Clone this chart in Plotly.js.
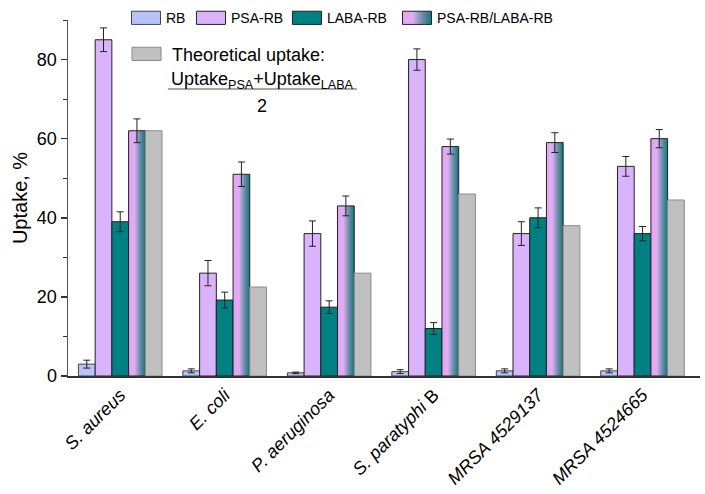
<!DOCTYPE html>
<html>
<head>
<meta charset="utf-8">
<script src="https://cdn.plot.ly/plotly-3.0.1.min.js"></script>
<style>body{margin:0;padding:0;background:#fff;}#chart{width:705px;height:494px;}</style>
</head>
<body>
<div id="chart"></div>
<script>
// ---- data ----
const categories = ["<i>S. aureus</i>", "<i>E. coli</i>", "<i>P. aeruginosa</i>", "<i>S. paratyphi</i> B", "<i>MRSA 4529137</i>", "<i>MRSA 4524665</i>"];
const rb        = [3, 1.3, 0.8, 1.1, 1.3, 1.3];
const rbErr     = [1, 0.5, 0.2, 0.5, 0.5, 0.5];
const psa       = [85, 26, 36, 80, 36, 53];
const psaErr    = [3, 3.2, 3.2, 2.7, 3, 2.5];
const laba      = [39, 19.2, 17.4, 12, 40, 36];
const labaErr   = [2.5, 2, 1.6, 1.5, 2.5, 1.8];
const combo     = [62, 51, 43, 58, 59, 60];
const comboErr  = [3, 3.1, 2.5, 1.9, 2.5, 2.3];
const theory    = [62, 22.5, 26, 46, 38, 44.5];
const seriesNames = ["RB", "PSA-RB", "LABA-RB", "PSA-RB/LABA-RB", "Theoretical uptake:"];

const FAM = "Liberation Sans, Arial, sans-serif";
const font = {family: FAM, size: 18, color: "#000"};
const err = (arr) => ({type: "data", array: arr, visible: true, color: "#222", thickness: 1, width: 3.5});

const traces = [
  {type: "bar", name: seriesNames[0], x: categories, y: rb, error_y: err(rbErr), legend: "legend",
   marker: {color: "#b9c3fb", line: {color: "#444", width: 1}}},
  {type: "bar", name: seriesNames[1], x: categories, y: psa, error_y: err(psaErr), legend: "legend3",
   marker: {color: "#d9b3fb", line: {color: "#222", width: 1}}},
  {type: "bar", name: seriesNames[2], x: categories, y: laba, error_y: err(labaErr), legend: "legend4",
   marker: {color: "#008080", line: {color: "#222", width: 1}}},
  {type: "bar", name: seriesNames[3], x: categories, y: combo, error_y: err(comboErr), legend: "legend5",
   marker: {color: "#c090d8", line: {color: "#222", width: 1}}},
  {type: "bar", name: seriesNames[4], x: categories, y: theory, legend: "legend2",
   marker: {color: "#c0c0c0", line: {color: "#8a8a8a", width: 1}}}
];

function leg(x, y, size) {
  return {orientation: "h", x: x, xanchor: "left", y: y, yanchor: "middle", itemwidth: 36,
          font: {family: FAM, size: size, color: "#000"}, bgcolor: "rgba(0,0,0,0)"};
}

const layout = {
  width: 705, height: 494,
  margin: {l: 68, r: 5, t: 20, b: 118, autoexpand: false},
  paper_bgcolor: "#fff", plot_bgcolor: "#fff",
  font: font,
  barmode: "group", bargap: 0.2, bargroupgap: 0,
  showlegend: true,
  legend:  leg(0.0823, 1.005, 14),
  legend3: leg(0.1851, 1.005, 14),
  legend4: leg(0.3370, 1.005, 14),
  legend5: leg(0.5111, 1.005, 14),
  legend2: leg(0.0918, 0.904, 18),
  xaxis: {showline: true, linecolor: "#333", linewidth: 1.5, ticks: "", tickangle: -45,
          tickfont: {family: FAM, size: 18, color: "#000"}, showgrid: false, zeroline: false,
          range: [-0.5, 5.55]},
  yaxis: {range: [0, 90], showline: true, linecolor: "#555", linewidth: 1.5, ticks: "outside",
          ticklen: 6, tickwidth: 1.5, tickcolor: "#333", dtick: 20, showgrid: false, zeroline: false,
          tickfont: {family: FAM, size: 18, color: "#000"},
          minor: {dtick: 10, ticks: "outside", ticklen: 3.5, tickwidth: 1, tickcolor: "#333"},
          title: {text: "Uptake, %", font: {family: FAM, size: 20, color: "#000"}, standoff: 4}},
  annotations: [
    {xref: "paper", yref: "paper", x: 0.307, y: 0.829, text: "Uptake<sub>PSA</sub>+Uptake<sub>LABA</sub>",
     showarrow: false, font: {family: FAM, size: 18, color: "#000"}, xanchor: "center", yanchor: "middle"},
    {xref: "paper", yref: "paper", x: 0.307, y: 0.758, text: "2",
     showarrow: false, font: {family: FAM, size: 18, color: "#000"}, xanchor: "center", yanchor: "middle"}
  ],
  shapes: [
    {type: "line", xref: "paper", yref: "paper", x0: 0.158, x1: 0.457, y0: 0.806, y1: 0.806,
     line: {color: "#888", width: 1.5}}
  ]
};

const gd = document.getElementById("chart");
function decorate() {
  const svg = gd.querySelector("svg.main-svg");
  if (!document.getElementById("comboGrad")) {
    let defs = svg.querySelector("defs");
    if (!defs) { defs = document.createElementNS("http://www.w3.org/2000/svg", "defs"); svg.insertBefore(defs, svg.firstChild); }
    const grad = document.createElementNS("http://www.w3.org/2000/svg", "linearGradient");
    grad.setAttribute("id", "comboGrad");
    grad.setAttribute("x1", "0"); grad.setAttribute("y1", "0");
    grad.setAttribute("x2", "1"); grad.setAttribute("y2", "0");
    [["0", "#eaa2f8"], ["0.35", "#dcb0f2"], ["0.7", "#6a8aa8"], ["1", "#0a7a7a"]].forEach(function (s) {
      const st = document.createElementNS("http://www.w3.org/2000/svg", "stop");
      st.setAttribute("offset", s[0]); st.setAttribute("stop-color", s[1]);
      grad.appendChild(st);
    });
    defs.appendChild(grad);
  }
  const barTraces = gd.querySelectorAll(".barlayer .trace.bars");
  if (barTraces[3]) barTraces[3].querySelectorAll("path").forEach(function (p) { p.style.fill = "url(#comboGrad)"; });
  gd.querySelectorAll(".infolayer .traces").forEach(function (t) {
    let name = null;
    const d = t.__data__;
    if (d && d[0] && d[0].trace) name = d[0].trace.name;
    if (name === null) {
      const txt = t.querySelector("text");
      if (txt) name = txt.textContent;
    }
    const cx = (name === seriesNames[4]) ? 20.5 : 26;
    t.querySelectorAll(".legendpoints path").forEach(function (p) {
      p.setAttribute("transform", "translate(" + cx + ",0) scale(2.42,1.1)");
      p.setAttribute("vector-effect", "non-scaling-stroke");
      p.style.vectorEffect = "non-scaling-stroke";
      if (name === seriesNames[3]) p.style.fill = "url(#comboGrad)";
    });
  });
}
Plotly.newPlot(gd, traces, layout, {displayModeBar: false, staticPlot: true}).then(function () {
  decorate();
  setTimeout(decorate, 50);
  setTimeout(decorate, 300);
});
</script>
</body>
</html>
